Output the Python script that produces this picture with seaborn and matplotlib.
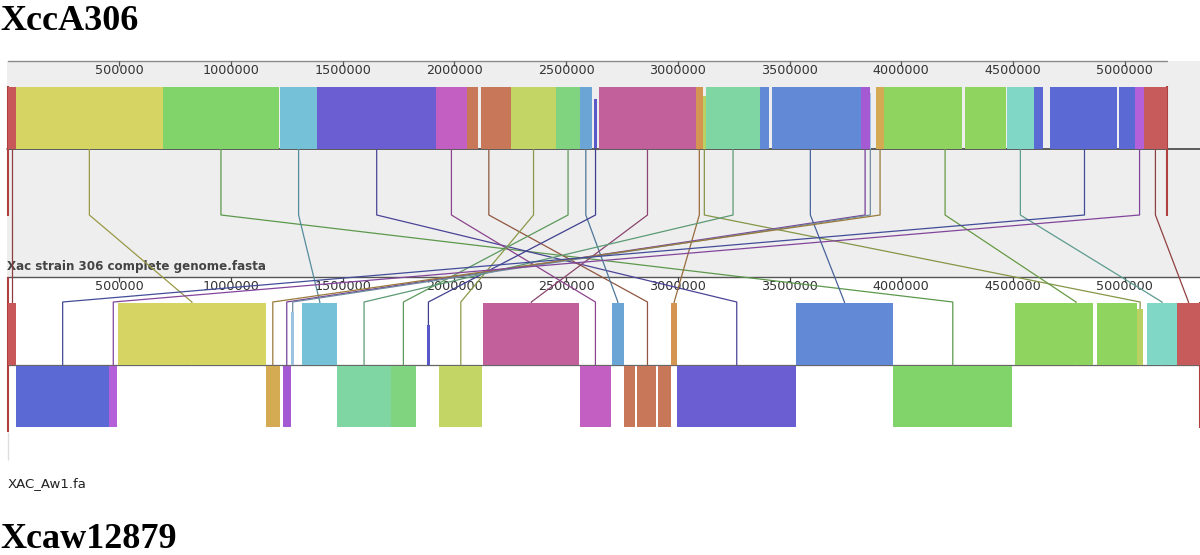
import matplotlib
matplotlib.use('Agg')
import matplotlib.pyplot as plt
import matplotlib.colors as mcolors
import seaborn as sns

sns.set_style('white')
plt.rcParams['font.family'] = ['DejaVu Sans']

# genome lengths and ruler ticks (bp)
top_length = 5188000
bottom_length = 5335000
ruler_ticks = [500000, 1000000, 1500000, 2000000, 2500000,
               3000000, 3500000, 4000000, 4500000, 5000000]

# one colour per locally collinear block (LCB)
lcb_colors = ['#c8575a', '#d6d462', '#80d46a', '#75c2d8', '#6a5ed2', '#c35ec2',
              '#c87858', '#c3d565', '#80d480', '#6ba5d6', '#5858c8', '#c1609b',
              '#d49552', '#b9d163', '#80d6a2', '#6289d6', '#a35ad3', '#9cc2e0',
              '#d4aa52', '#8fd45f', '#80d7c5', '#5b69d5', '#b460d8', '#c75a5a']

# blocks in Xac strain 306 (kb), LCB index, filled fraction
top_start = [0, 38, 694, 1219, 1386, 1918, 2055, 2118, 2253, 2455, 2562, 2625,
             2647, 3081, 3111, 3126, 3368, 3420, 3818, 3858, 3887, 3923, 4285,
             4472, 4594, 4666, 4975, 5046, 5087]
top_end = [38, 694, 1216, 1386, 1918, 2055, 2104, 2253, 2455, 2562, 2614, 2638,
           3081, 3111, 3126, 3368, 3409, 3818, 3858, 3865, 3923, 4271, 4469,
           4594, 4636, 4964, 5046, 5087, 5188]
top_lcb = [0, 1, 2, 3, 4, 5, 6, 6, 7, 8, 9, 10, 11, 12, 13, 14, 15, 15, 16, 17,
           18, 19, 19, 20, 21, 21, 21, 22, 23]
top_frac = [1, 1, 1, 1, 1, 1, 1, 1, 1, 1, 1, 0.8, 1, 1, 0.85, 1, 1, 1, 1, 0.9,
            1, 1, 1, 1, 1, 1, 1, 1, 1]

# blocks in XAC_Aw1 (kb), LCB index, strand (+1 forward, -1 reverse), filled fraction
bottom_start = [0, 38, 455, 495, 1155, 1231, 1270, 1319, 1476, 1715, 1876, 1932,
                2129, 2562, 2704, 2760, 2817, 2913, 2969, 2998, 3529, 3964, 4509,
                4875, 5055, 5101, 5236]
bottom_end = [38, 455, 491, 1155, 1219, 1268, 1282, 1476, 1715, 1828, 1891, 2125,
              2559, 2700, 2759, 2808, 2902, 2968, 2998, 3529, 3962, 4497, 4857,
              5055, 5083, 5233, 5335]
bottom_lcb = [0, 21, 22, 1, 18, 16, 17, 3, 14, 8, 10, 7, 11, 5, 9, 6, 6, 6, 12,
              4, 15, 2, 19, 19, 13, 20, 23]
bottom_strand = [1, -1, -1, 1, -1, -1, 1, 1, -1, -1, 1, -1, 1, -1, 1, -1, -1, -1,
                 1, -1, 1, -1, 1, 1, 1, 1, 1]
bottom_frac = [1, 1, 1, 1, 1, 1, 0.85, 1, 1, 1, 0.63, 1, 1, 1, 1, 1, 1, 1, 1, 1,
               1, 1, 1, 1, 0.9, 1, 1]

KB = 1000
fig = plt.figure(figsize=(12, 5.55), dpi=100)
ax = fig.add_axes([0, 0, 1, 1])
xmin, xmax = -34000, 5337000
ax.set_xlim(xmin, xmax)
ax.set_ylim(555, 0)
ax.axis('off')

# top panel background (grey)
ax.add_patch(plt.Rectangle((-2000, 61), xmax + 2000, 216, color='#eeeeee', lw=0, zorder=0))

# rulers
ax.plot([0, top_length], [61, 61], color='#8a8a8a', lw=1.0, zorder=1)
ax.vlines(ruler_ticks, 61, 66, color='#555555', lw=0.9, zorder=1)
for t in ruler_ticks:
    ax.text(t, 71, str(t), ha='center', va='center', fontsize=9.2, color='#333333', zorder=1)
ax.plot([-2000, xmax], [149, 149], color='#333333', lw=1.1, zorder=1)
ax.plot([-2000, xmax], [277, 277], color='#555555', lw=1.0, zorder=1)
ax.vlines(ruler_ticks, 277, 282, color='#444444', lw=0.9, zorder=1)
for t in ruler_ticks:
    ax.text(t, 286, str(t), ha='center', va='center', fontsize=9.2, color='#333333', zorder=1)
ax.plot([-2000, xmax], [365, 365], color='#666666', lw=0.9, zorder=1)

# contig boundaries
ax.vlines([0, top_length], 86, 216, color='#b04040', lw=1.5, zorder=4)
ax.vlines([0, bottom_length], [277, 302], [432, 428], color='#b04040', lw=1.5, zorder=4)
ax.vlines([0], 432, 460, color='#dddddd', lw=1.0, zorder=1)

# sequence names and titles
ax.text(-1000, 270, 'Xac strain 306 complete genome.fasta', ha='left', va='baseline',
        fontsize=8.6, fontweight='bold', color='#444444', zorder=2)
ax.text(-1000, 487, 'XAC_Aw1.fa', ha='left', va='baseline', fontsize=9.5, color='#222222')
ax.text(xmin, 30, 'XccA306', ha='left', va='baseline', fontsize=26, fontweight='bold',
        family='Liberation Serif', color='black')
ax.text(xmin, 548, 'Xcaw12879', ha='left', va='baseline', fontsize=26, fontweight='bold',
        family='Liberation Serif', color='black')

# connecting lines between the two genomes, one per LCB
for i, col in enumerate(lcb_colors):
    ts = [top_start[k] for k in range(len(top_lcb)) if top_lcb[k] == i]
    te = [top_end[k] for k in range(len(top_lcb)) if top_lcb[k] == i]
    bs = [bottom_start[k] for k in range(len(bottom_lcb)) if bottom_lcb[k] == i]
    be = [bottom_end[k] for k in range(len(bottom_lcb)) if bottom_lcb[k] == i]
    tx = (min(ts) + max(te)) / 2 * KB
    bx = (min(bs) + max(be)) / 2 * KB
    dark = [c * 0.72 for c in mcolors.to_rgb(col)]
    ax.plot([tx, tx, bx, bx], [149, 215, 302, 365], color=dark, lw=0.9, zorder=3)

# blocks of the reference genome (all forward)
for s, e, l, f in zip(top_start, top_end, top_lcb, top_frac):
    h = 62 * f
    ax.bar(s * KB, h, width=(e - s) * KB, bottom=148.5 - h, align='edge',
           color=lcb_colors[l], lw=0, zorder=5)

# blocks of the second genome (above centre line forward, below reverse)
for s, e, l, d, f in zip(bottom_start, bottom_end, bottom_lcb, bottom_strand, bottom_frac):
    if d > 0:
        h = 62 * f
        y0 = 364.5 - h
    else:
        h = 61 * f
        y0 = 365.5
    ax.bar(s * KB, h, width=(e - s) * KB, bottom=y0, align='edge',
           color=lcb_colors[l], lw=0, zorder=5)

fig.savefig('out.png', dpi=100)
